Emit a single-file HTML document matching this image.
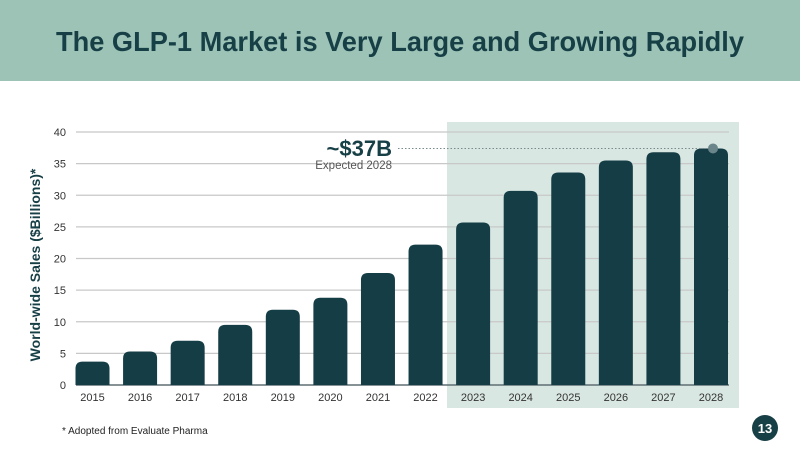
<!DOCTYPE html>
<html><head><meta charset="utf-8"><style>
html,body{margin:0;padding:0;background:#fff;}
svg{display:block;font-family:"Liberation Sans",sans-serif;}
</style></head><body>
<svg width="800" height="450" viewBox="0 0 800 450">
<rect x="0" y="0" width="800" height="81" fill="#9dc3b7"/>
<text x="400" y="51" text-anchor="middle" font-size="28" font-weight="bold" fill="#173f46" textLength="688" lengthAdjust="spacingAndGlyphs">The GLP-1 Market is Very Large and Growing Rapidly</text>
<rect x="447" y="122" width="292" height="286" fill="#d9e7e2"/>
<g id="grid"></g>
<g id="bars"></g>
<g id="labels"></g>
<text transform="translate(40,265) rotate(-90)" text-anchor="middle" font-size="14" font-weight="bold" fill="#173f46">World-wide Sales ($Billions)*</text>
<text x="392" y="156" text-anchor="end" font-size="22" font-weight="bold" fill="#173f46">~$37B</text>
<text x="392" y="169" text-anchor="end" font-size="11.5" fill="#555">Expected 2028</text>
<text x="62" y="434" font-size="10" fill="#222">* Adopted from Evaluate Pharma</text>
<circle cx="765" cy="428" r="13" fill="#173f46"/>
<text x="765" y="433" text-anchor="middle" font-size="13" font-weight="bold" fill="#fff">13</text>
</svg>
<script>
const categories=["2015","2016","2017","2018","2019","2020","2021","2022","2023","2024","2025","2026","2027","2028"];
const values=[3.7,5.3,7.0,9.5,11.9,13.8,17.7,22.2,25.7,30.7,33.6,35.5,36.8,37.4];
const yTicks=[0,5,10,15,20,25,30,35,40];
const annotationValue=37.4;
const NS="http://www.w3.org/2000/svg";
const y0=385,yTop=132,yMax=40;
function yS(v){return y0-(v/yMax)*(y0-yTop);}
function xC(i){return 92.5+i*(711-92.5)/(categories.length-1);}
const bw=34;
const grid=document.getElementById('grid'),bars=document.getElementById('bars'),labels=document.getElementById('labels');
function mk(tag,attrs,parent){const e=document.createElementNS(NS,tag);for(const k in attrs)e.setAttribute(k,attrs[k]);parent.appendChild(e);return e;}
yTicks.forEach(t=>{
  const l=mk('line',{x1:76,x2:729,y1:yS(t),y2:yS(t),stroke:t===0?'#5f6f72':'#c8c8c8','stroke-width':t===0?1.5:1.3},grid);
  
  
  const tx=mk('text',{x:66,y:yS(t)+4,'text-anchor':'end','font-size':11,fill:'#333'},labels);
  tx.textContent=t;
  
  
});
categories.forEach((c,i)=>{
  const top=yS(values[i]),h=y0-top,r=Math.min(7,h/2);
  const x=xC(i)-bw/2;
  const p=mk('path',{d:`M${x},${y0}V${top+r}Q${x},${top} ${x+r},${top}H${x+bw-r}Q${x+bw},${top} ${x+bw},${top+r}V${y0}Z`,fill:'#143d45'},bars);
  
  
  const tx=mk('text',{x:xC(i),y:401,'text-anchor':'middle','font-size':11,fill:'#333'},labels);
  tx.textContent=c;
  
  
});
const ay=yS(annotationValue);
const dl=mk('line',{x1:398,x2:712,y1:ay,y2:ay,stroke:'#7a8a8c','stroke-width':1,'stroke-dasharray':'1.5,2'},labels);


const dot=mk('circle',{cx:713,cy:ay,r:5,fill:'#6b868b'},labels);


</script>
</body></html>
